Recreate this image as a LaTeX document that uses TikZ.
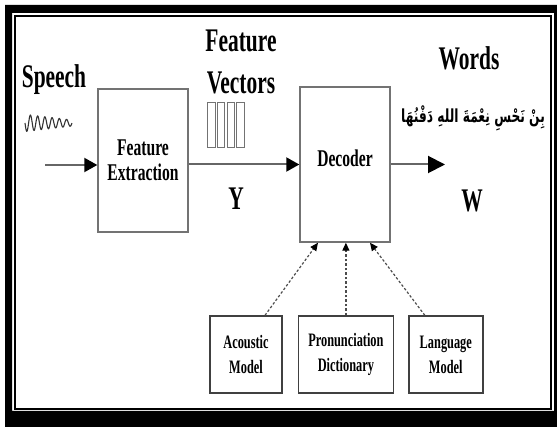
\documentclass[tikz,border=0pt]{standalone}
\usepackage{fontspec}
\setmainfont{Liberation Serif}[FakeStretch=0.65]
\newfontfamily\arabicfont[Script=Arabic,FakeStretch=0.68]{DejaVu Sans}
\TeXXeTstate=1
\usetikzlibrary{positioning,arrows.meta}

\begin{document}
\begin{tikzpicture}[x=1pt,y=-1pt,
    box/.style={draw=black!55,line width=1.4pt,align=center,font=\fontsize{24}{25}\selectfont\bfseries,inner sep=0pt},
    kbox/.style={draw=black!75,line width=1.4pt,minimum height=77pt,align=center,font=\fontsize{19}{25}\selectfont\bfseries,inner sep=0pt},
    lbl/.style={font=\fontsize{33}{42}\selectfont\bfseries,align=center,inner sep=0pt},
    flow/.style={draw=black!60,line width=2pt,-{Triangle[length=13pt,width=14pt,color=black]}},
    kflow/.style={draw=black!70,line width=1.2pt,dash pattern=on 2.5pt off 2pt,-{Triangle[length=8pt,width=7pt,color=black]}}]
    \useasboundingbox (0,0) rectangle (557,427);
    % double frame
    \fill[black,even odd rule] (5,5) rectangle (557,427) (12,13) rectangle (554,411);
    \draw[line width=1.5pt] (15,16) rectangle (551,409);
    % blocks
    \node[box,minimum width=90pt,minimum height=143pt] (fe) at (143,160.5) {Feature\\Extraction};
    \node[box,minimum width=90pt,minimum height=155pt] (dec) at (345,164.5) {\raisebox{12pt}{Decoder}};
    \node[kbox,minimum width=72pt] (am) at (246,354.5) {Acoustic\\Model};
    \node[kbox,minimum width=95pt,right=15pt of am] (pd) {Pronunciation\\Dictionary};
    \node[kbox,minimum width=74pt,right=14pt of pd] (lm) {Language\\Model};
    % labels
    \node[lbl,anchor=base] (speech) at (54,88) {Speech};
    \node[lbl] (fv) at (241,62) {Feature\\Vectors};
    \node[lbl,anchor=base] (words) at (469,70) {Words};
    \node[font={\arabicfont\fontsize{18}{20}\selectfont\bfseries},inner sep=0pt] (arab) at (473,118) {\beginR بِنْ نَحْسِ نِعْمَةَ اللهِ دَفْنُهَا\endR};
    \node[lbl,anchor=base] (y) at (236,210) {Y};
    \node[lbl,anchor=base] (w) at (472,212) {W};
    % speech wave and feature vectors
    \draw[black!80,line width=1.1pt] plot[domain=0:1,samples=200] ({25+47*\x},{123+(8.5-5.5*\x)*sin(2340*\x)});
    \foreach \i in {0,...,3}
      \draw[black!55,line width=1pt] ({207.5+9.8*\i},103) rectangle ++(7.5,45);
    % connectors
    \coordinate (sp) at (45,165);
    \coordinate (out) at (445,164.5);
    \draw[flow] (sp) -- (sp -| fe.west);
    \draw[flow] (dec.west -| fe.east) -- (dec.west);
    \draw[flow,-{Triangle[length=17pt,width=17pt,color=black]}] (dec.east) -- (out);
    \draw[kflow] ([xshift=19pt]am.north) -- ([xshift=-27pt]dec.south);
    \draw[kflow] (pd.north) -- (pd.north |- dec.south);
    \draw[kflow] ([xshift=-21pt]lm.north) -- ([xshift=25pt]dec.south);
  \end{tikzpicture}
\end{document}
